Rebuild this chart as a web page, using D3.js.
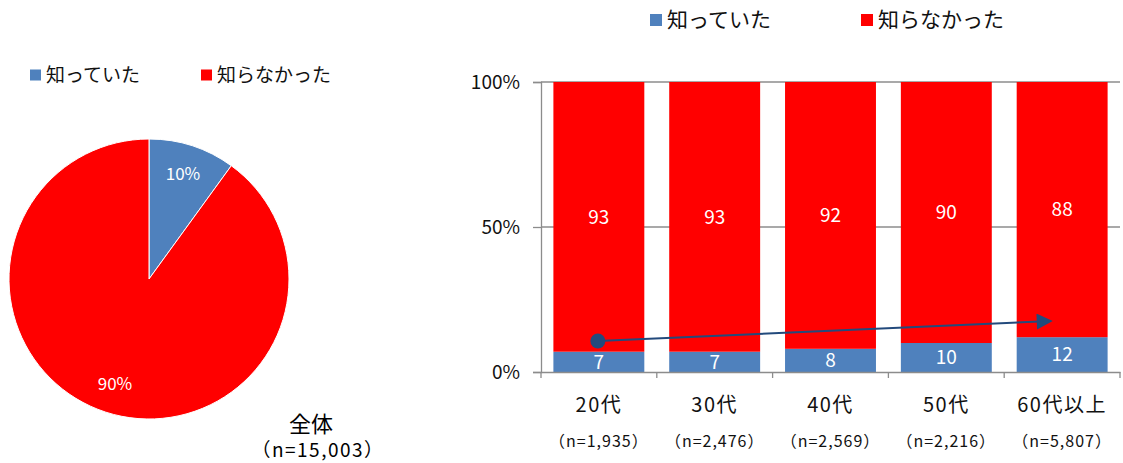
<!DOCTYPE html>
<html>
<head>
<meta charset="utf-8">
<script src="https://cdn.jsdelivr.net/npm/d3@7"></script>
<style>
  body { margin: 0; background: #fff; }
  text { font-family: "Noto Sans CJK JP", "Noto Sans", sans-serif; }
</style>
</head>
<body>
<script>
// legend / series names
var seriesNames = ["知っていた", "知らなかった"];
var seriesColors = ["#4F81BD", "#FF0000"];

// overall pie (%)
var pieValues = [10, 90];

// by age group (%)
var ageGroups = ["20代", "30代", "40代", "50代", "60代以上"];
var ageN = ["（n=1,935）", "（n=2,476）", "（n=2,569）", "（n=2,216）", "（n=5,807）"];
var knewValues = [7, 7, 8, 10, 12];
var didntKnowValues = [93, 93, 92, 90, 88];
var yTicks = [0, 50, 100];

// trend arrow (from 20代 to 60代以上, in % units)
var arrowFrom = {cat: "20代", value: 10.7};
var arrowTo = {cat: "60代以上", value: 17.6};

var svg = d3.select("body").append("svg").attr("width", 1123).attr("height", 463);

// ---------- pie ----------
var pieG = svg.append("g").attr("transform", "translate(149,279)");
var pie = d3.pie().sort(null).value(function(d){ return d; });
var arc = d3.arc().innerRadius(0).outerRadius(140);
var labelArc = d3.arc().innerRadius(110).outerRadius(110);
var slices = pie(pieValues);

pieG.selectAll("path.slice")
    .data(slices)
    .enter().append("path")
    .attr("class", "slice")
    .attr("d", arc)
    .attr("fill", function(d, i){ return seriesColors[i]; })
    .attr("stroke", "#fff")
    .attr("stroke-width", 1);

pieG.selectAll("text.plabel")
    .data(slices)
    .enter().append("text")
    .attr("class", "plabel")
    .attr("transform", function(d){ return "translate(" + labelArc.centroid(d) + ")"; })
    .attr("text-anchor", "middle")
    .attr("dy", "0.35em")
    .attr("fill", "#fff")
    .style("font-size", "17px")
    .text(function(d){ return d.data + "%"; });

// pie caption
svg.append("text").attr("x", 311).attr("y", 424).attr("dy", "0.35em")
    .attr("text-anchor", "middle").style("font-size", "22px").text("全体");
svg.append("text").attr("x", 318).attr("y", 450).attr("dy", "0.35em")
    .attr("text-anchor", "middle").style("font-size", "19px")
    .style("letter-spacing", "1.5px").text("（n=15,003）");

// left legend
var leftLegend = svg.append("g").attr("transform", "translate(30,75)");
var leftPos = [0, 171];
seriesNames.forEach(function(name, i){
    var g = leftLegend.append("g").attr("transform", "translate(" + leftPos[i] + ",0)");
    g.append("rect").attr("x", 0).attr("y", -5.5).attr("width", 11).attr("height", 11).attr("fill", seriesColors[i]);
    g.append("text").attr("x", 16).attr("dy", "0.35em").style("font-size", "19px").attr("fill", "#111").text(name);
});

// right legend
var rightLegend = svg.append("g").attr("transform", "translate(650,20)");
var rightPos = [0, 211];
seriesNames.forEach(function(name, i){
    var g = rightLegend.append("g").attr("transform", "translate(" + rightPos[i] + ",0)");
    g.append("rect").attr("x", 0).attr("y", -6).attr("width", 12).attr("height", 12).attr("fill", seriesColors[i]);
    g.append("text").attr("x", 17).attr("dy", "0.35em").style("font-size", "21px").attr("fill", "#111").text(name);
});

// ---------- stacked bars ----------
var x = d3.scaleBand().domain(ageGroups).range([541, 1120]).paddingInner(0.215).paddingOuter(0.107);
var xAxisBand = d3.scaleBand().domain(ageGroups).range([541, 1120]);
var y = d3.scaleLinear().domain([0, 100]).range([372, 82]);

// gridlines
svg.append("g").selectAll("line")
    .data(yTicks.filter(function(t){ return t > 0; }))
    .enter().append("line")
    .attr("x1", 541).attr("x2", 1120)
    .attr("y1", function(d){ return y(d); }).attr("y2", function(d){ return y(d); })
    .attr("stroke", "#8c8c8c").attr("stroke-width", 1.3);

var rows = ageGroups.map(function(g, i){
    return {group: g, knew: knewValues[i], didnt: didntKnowValues[i]};
});
var stack = d3.stack().keys(["knew", "didnt"]);
var layers = stack(rows);

var layerG = svg.append("g").selectAll("g")
    .data(layers)
    .enter().append("g")
    .attr("fill", function(d, i){ return seriesColors[i]; });

layerG.selectAll("rect")
    .data(function(d){ return d; })
    .enter().append("rect")
    .attr("x", function(d){ return x(d.data.group); })
    .attr("width", x.bandwidth())
    .attr("y", function(d){ return y(d[1]); })
    .attr("height", function(d){ return y(d[0]) - y(d[1]); });

layerG.selectAll("text")
    .data(function(d){ return d; })
    .enter().append("text")
    .attr("x", function(d){ return x(d.data.group) + x.bandwidth() / 2; })
    .attr("y", function(d){ return (y(d[0]) + y(d[1])) / 2; })
    .attr("dy", "0.35em")
    .attr("text-anchor", "middle")
    .attr("fill", "#fff")
    .style("font-size", "19px")
    .text(function(d){ return d[1] - d[0]; });

// y axis
var yAxis = d3.axisLeft(y).tickValues(yTicks).tickSize(8).tickPadding(13)
    .tickFormat(function(d){ return d + "%"; });
var yG = svg.append("g").attr("transform", "translate(541,0)").call(yAxis);
yG.select(".domain").attr("stroke", "#8c8c8c").attr("stroke-width", 1.3);
yG.selectAll(".tick line").attr("stroke", "#8c8c8c").attr("stroke-width", 1.3);
yG.selectAll(".tick text").style("font-size", "19px").attr("fill", "#111")
    .style("font-family", "'Noto Sans CJK JP', sans-serif");

// x axis
var xAxis = d3.axisBottom(xAxisBand).tickSize(0).tickFormat("");
var xG = svg.append("g").attr("transform", "translate(0,372)").call(xAxis);
xG.select(".domain").attr("stroke", "#8c8c8c").attr("stroke-width", 1.3);
// category boundary ticks
xG.selectAll("line.sep")
    .data(ageGroups.concat(["end"]))
    .enter().append("line")
    .attr("class", "sep")
    .attr("x1", function(d, i){ return 541 + i * xAxisBand.step(); })
    .attr("x2", function(d, i){ return 541 + i * xAxisBand.step(); })
    .attr("y1", 0).attr("y2", 6)
    .attr("stroke", "#8c8c8c").attr("stroke-width", 1.3);

svg.append("g").selectAll("text")
    .data(ageGroups)
    .enter().append("text")
    .attr("x", function(d){ return xAxisBand(d) + xAxisBand.bandwidth() / 2; })
    .attr("y", 405).attr("dy", "0.35em")
    .attr("text-anchor", "middle")
    .style("font-size", "20px").style("letter-spacing", "1.5px").attr("fill", "#111")
    .text(function(d){ return d; });

svg.append("g").selectAll("text")
    .data(ageN)
    .enter().append("text")
    .attr("x", function(d, i){ return xAxisBand(ageGroups[i]) + xAxisBand.bandwidth() / 2; })
    .attr("y", 441).attr("dy", "0.35em")
    .attr("text-anchor", "middle")
    .style("font-size", "16px").style("letter-spacing", "1px").attr("fill", "#111")
    .text(function(d){ return d; });

// trend arrow
var arrowColor = "#234A7C";
svg.append("defs").append("marker")
    .attr("id", "arrowhead")
    .attr("viewBox", "0 0 10 10")
    .attr("refX", 9).attr("refY", 5)
    .attr("markerWidth", 18).attr("markerHeight", 16)
    .attr("markerUnits", "userSpaceOnUse")
    .attr("orient", "auto")
    .append("path").attr("d", "M0,0 L10,5 L0,10 z").attr("fill", arrowColor);

var ax1 = x(arrowFrom.cat) + x.bandwidth() / 2 - 1;
var ax2 = x(arrowTo.cat) + x.bandwidth() / 2 - 11;
svg.append("line")
    .attr("x1", ax1).attr("y1", y(arrowFrom.value))
    .attr("x2", ax2).attr("y2", y(arrowTo.value))
    .attr("stroke", arrowColor).attr("stroke-width", 2)
    .attr("marker-end", "url(#arrowhead)");
svg.append("circle")
    .attr("cx", ax1).attr("cy", y(arrowFrom.value)).attr("r", 7.5)
    .attr("fill", arrowColor);
</script>
</body>
</html>
